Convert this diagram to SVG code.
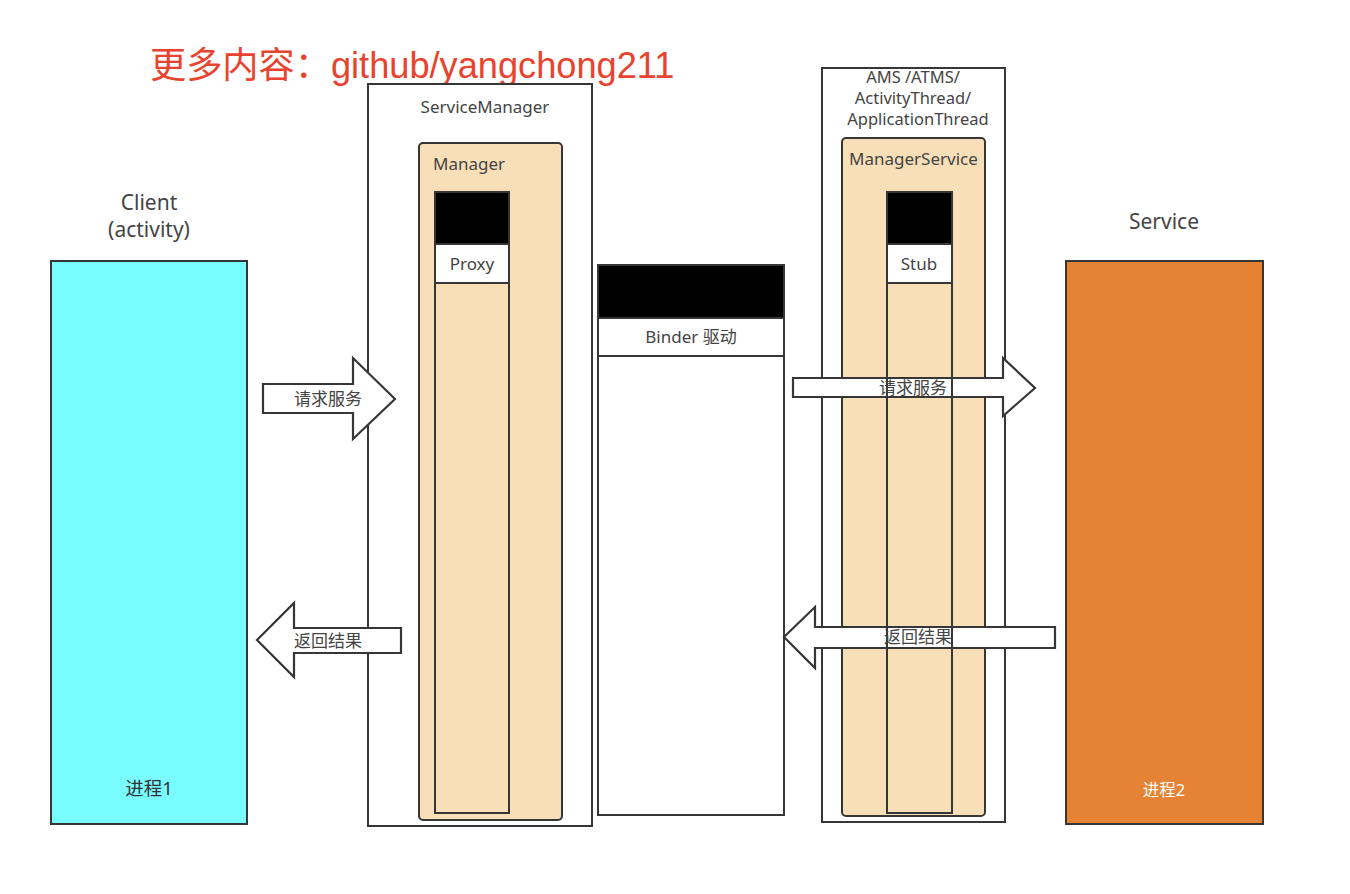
<svg xmlns="http://www.w3.org/2000/svg" width="1350" height="894" viewBox="0 0 1350 894">
<style>
  .box { stroke: #363636; stroke-width: 2; }
  .lbl { font-family: "Noto Sans", "Open Sans", "Noto Sans CJK SC", sans-serif; fill: #444; text-anchor: middle; }
  .s16 { font-size: 17px; }
  .s19 { font-size: 21px; }
  .ams { font-size: 16.5px; }
  .arrow { fill: #fff; stroke: #363636; stroke-width: 2.2; stroke-linejoin: miter; }
  .tan { fill: #F8DFB8; }
  .blk { fill: #000; }
  .wht { fill: #fff; }
</style>
<rect x="0" y="0" width="1350" height="894" fill="#fff"/>

<text x="150" y="78" font-family="'Liberation Sans', 'Noto Sans CJK SC', sans-serif" font-size="36.2" fill="#E8432E">更多内容：github/yangchong211</text>

<g id="client">
  <rect class="box" x="51" y="261" width="196" height="563" fill="#78FCFE"/>
  <text class="lbl s19" x="149" y="210">Client</text>
  <text class="lbl s19" x="149" y="237">(activity)</text>
  <text class="lbl" x="149" y="795" font-size="18.5" style="fill:#333">进程1</text>
</g>

<g id="service-manager">
  <rect class="box wht" x="368" y="84" width="224" height="742"/>
  <text class="lbl s16" x="485" y="113">ServiceManager</text>
  <g id="manager">
    <rect class="box tan" x="419" y="143" width="143" height="677" rx="4"/>
    <text class="lbl s16" x="433" y="170" style="text-anchor:start">Manager</text>
    <g id="proxy">
      <rect class="box tan" x="435" y="192" width="74" height="621"/>
      <rect class="box blk" x="435" y="192" width="74" height="52"/>
      <rect class="box wht" x="435" y="244" width="74" height="39"/>
      <text class="lbl s16" x="472" y="270">Proxy</text>
    </g>
  </g>
</g>

<g id="binder">
  <rect class="box wht" x="598" y="265" width="186" height="550"/>
  <rect class="box blk" x="598" y="265" width="186" height="53"/>
  <rect class="box wht" x="598" y="318" width="186" height="38"/>
  <text class="lbl s16" x="691" y="343">Binder 驱动</text>
</g>

<g id="ams">
  <rect class="box wht" x="822" y="68" width="183" height="754"/>
  <text class="lbl ams" x="913" y="83">AMS /ATMS/</text>
  <text class="lbl ams" x="913" y="104">ActivityThread/</text>
  <text class="lbl ams" x="918" y="125">ApplicationThread</text>
  <g id="manager-service">
    <rect class="box tan" x="842" y="138" width="143" height="678" rx="4"/>
    <text class="lbl s16" x="849" y="165" style="text-anchor:start">ManagerService</text>
    <g id="stub">
      <rect class="box tan" x="887" y="192" width="65" height="621"/>
      <rect class="box blk" x="887" y="192" width="65" height="52"/>
      <rect class="box wht" x="887" y="244" width="65" height="39"/>
      <text class="lbl s16" x="919" y="270">Stub</text>
    </g>
  </g>
</g>

<g id="service">
  <rect class="box" x="1066" y="261" width="197" height="563" fill="#E58233"/>
  <text class="lbl s19" x="1164" y="229">Service</text>
  <text class="lbl" x="1164" y="796" font-size="16.5" style="fill:#fff">进程2</text>
</g>

<g id="connectors">
  <polygon class="arrow" points="263,384 353,384 353,358 395,399 353,439 353,413 263,413"/>
  <text class="lbl s16" x="328" y="405">请求服务</text>

  <polygon class="arrow" points="401,628 294,628 294,603 257,640 294,677 294,653 401,653"/>
  <text class="lbl s16" x="328" y="647">返回结果</text>

  <polygon class="arrow" points="793,378 1003,378 1003,358 1035,388 1003,416 1003,397 793,397"/>
  <polygon class="arrow" points="1055,627 815,627 815,607 784,637 815,668 815,648 1055,648"/>
  <line class="box" x1="887" y1="370" x2="887" y2="405"/>
  <line class="box" x1="952" y1="370" x2="952" y2="405"/>
  <line class="box" x1="887" y1="620" x2="887" y2="655"/>
  <line class="box" x1="952" y1="620" x2="952" y2="655"/>
  <text class="lbl s16" x="913" y="394">请求服务</text>
  <text class="lbl s16" x="918" y="643">返回结果</text>
</g>
</svg>
